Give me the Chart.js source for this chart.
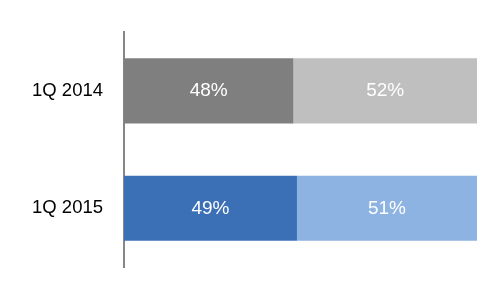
<!DOCTYPE html>
<html>
<head>
<meta charset="utf-8">
<script src="https://cdn.jsdelivr.net/npm/chart.js@4"></script>
<style>
  html, body { margin: 0; padding: 0; background: #ffffff; }
  #wrap { width: 500px; height: 300px; position: relative; }
</style>
</head>
<body>
<div id="wrap"><canvas id="c" width="500" height="300"></canvas></div>
<script>
const categories = ["1Q 2014", "1Q 2015"];
const firstShare = [48, 49];
const secondShare = [52, 51];
const firstColors = ["#7f7f7f", "#3b70b7"];
const secondColors = ["#bfbfbf", "#8db3e2"];

const labelPlugin = {
  id: "barLabels",
  afterDatasetsDraw(chart) {
    const ctx = chart.ctx;
    ctx.save();
    ctx.fillStyle = "#ffffff";
    ctx.font = "19px 'Liberation Sans', Arial, sans-serif";
    ctx.textAlign = "center";
    ctx.textBaseline = "middle";
    chart.data.datasets.forEach((ds, di) => {
      const meta = chart.getDatasetMeta(di);
      meta.data.forEach((bar, i) => {
        const p = bar.getProps(["x", "y", "base"], true);
        const cx = (p.x + p.base) / 2;
        ctx.fillText(ds.data[i] + "%", cx, p.y);
      });
    });
    ctx.restore();
  }
};

new Chart(document.getElementById("c"), {
  type: "bar",
  data: {
    labels: categories,
    datasets: [
      { data: firstShare, backgroundColor: firstColors, borderWidth: 0 },
      { data: secondShare, backgroundColor: secondColors, borderWidth: 0 }
    ]
  },
  options: {
    indexAxis: "y",
    responsive: false,
    animation: false,
    devicePixelRatio: 1,
    layout: { padding: { top: 27, bottom: 33, right: 23, left: 0 } },
    datasets: { bar: { categoryPercentage: 1, barPercentage: 0.555 } },
    plugins: { legend: { display: false }, tooltip: { enabled: false } },
    scales: {
      x: { stacked: true, min: 0, max: 100, display: false },
      y: {
        stacked: true,
        grid: { display: false, drawTicks: false },
        border: { display: true, color: "#868686", width: 2 },
        ticks: {
          color: "#000000",
          padding: 21,
          font: { family: "'Liberation Sans', Arial, sans-serif", size: 18.5 }
        },
        afterFit(scale) { scale.width = 124; }
      }
    }
  },
  plugins: [labelPlugin]
});
</script>
</body>
</html>
